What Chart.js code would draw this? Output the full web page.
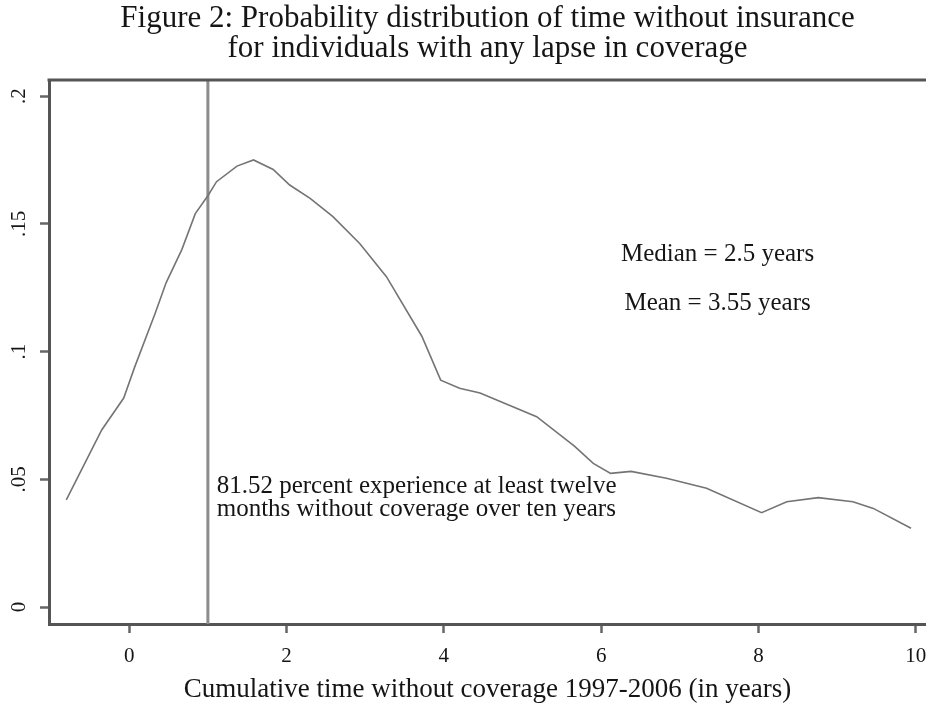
<!DOCTYPE html>
<html>
<head>
<meta charset="utf-8">
<script src="https://cdn.jsdelivr.net/npm/chart.js@4.4.0/dist/chart.umd.min.js"></script>
<style>
  html, body { margin: 0; padding: 0; background: #fff; }
  #wrap { width: 926px; height: 705px; }
</style>
</head>
<body>
<div id="wrap"><canvas id="c" width="926" height="705"></canvas></div>
<script>
// Kernel density of cumulative years without coverage
const yearsWithout = [-0.80, -0.35, -0.07, 0.07, 0.33, 0.47, 0.67, 0.84, 1.00, 1.11,
  1.37, 1.58, 1.83, 2.04, 2.30, 2.59, 2.93, 3.27, 3.72, 3.96,
  4.20, 4.46, 5.18, 5.66, 5.90, 6.12, 6.38, 6.83, 7.34, 8.04,
  8.36, 8.76, 9.20, 9.46, 9.94];
const density = [0.0419, 0.0693, 0.0818, 0.094, 0.115, 0.127, 0.140, 0.154, 0.161, 0.1665,
  0.1726, 0.175, 0.1713, 0.1652, 0.160, 0.1528, 0.1423, 0.1293, 0.106, 0.0888,
  0.0856, 0.0838, 0.0745, 0.063, 0.0562, 0.0523, 0.0531, 0.0504, 0.0465, 0.0369,
  0.0412, 0.0428, 0.0412, 0.0386, 0.0308];

// Twelve-month threshold marker
const cutoffYears = 1;

// Axis ticks
const xTickValues = [0, 2, 4, 6, 8, 10];
const yTickValues = [0, 0.05, 0.1, 0.15, 0.2];
const yTickLabels = ['0', '.05', '.1', '.15', '.2'];

// Axis ranges
const xMin = -1.02, xMax = 10.13;
const yMin = -0.00665, yMax = 0.2063;

const SERIF = "'Liberation Serif', 'Times New Roman', serif";
const TEXT = '#151515';
const AXIS = '#555555';

// Text notes placed in data coordinates
const notes = [
  { text: 'Median = 2.5 years', x: 7.48, y: 0.1354, align: 'center' },
  { text: 'Mean = 3.55 years', x: 7.48, y: 0.1162, align: 'center' },
  { text: '81.52 percent experience at least twelve', x: 1.112, y: 0.0446, align: 'left' },
  { text: 'months without coverage over ten years', x: 1.112, y: 0.0357, align: 'left' }
];

const framePlugin = {
  id: 'frame',
  afterDraw(chart) {
    const { ctx, chartArea, scales } = chart;
    ctx.save();
    // top edge of the plot box
    ctx.strokeStyle = AXIS;
    ctx.lineWidth = 3;
    ctx.beginPath();
    ctx.moveTo(chartArea.left - 1.5, chartArea.top);
    ctx.lineTo(chartArea.right + 2, chartArea.top);
    ctx.stroke();

    // rotated y tick labels
    ctx.fillStyle = TEXT;
    ctx.font = '21px ' + SERIF;
    ctx.textAlign = 'center';
    ctx.textBaseline = 'middle';
    yTickValues.forEach((v, i) => {
      const py = scales.y.getPixelForValue(v);
      ctx.save();
      ctx.translate(19, py);
      ctx.rotate(-Math.PI / 2);
      ctx.fillText(yTickLabels[i], 0, 0);
      ctx.restore();
    });

    // notes
    ctx.font = '25px ' + SERIF;
    ctx.textBaseline = 'alphabetic';
    notes.forEach(n => {
      ctx.textAlign = n.align;
      ctx.fillText(n.text, scales.x.getPixelForValue(n.x), scales.y.getPixelForValue(n.y));
    });
    ctx.restore();
  }
};

new Chart(document.getElementById('c'), {
  type: 'scatter',
  data: {
    datasets: [
      {
        label: 'Density',
        data: yearsWithout.map((x, i) => ({ x, y: density[i] })),
        showLine: true,
        borderColor: '#747474',
        borderWidth: 1.6,
        pointRadius: 0,
        tension: 0,
        order: 0
      },
      {
        label: 'Twelve months',
        data: [{ x: cutoffYears, y: yMin }, { x: cutoffYears, y: yMax }],
        showLine: true,
        borderColor: '#8c8c8c',
        borderWidth: 3,
        pointRadius: 0,
        order: 1
      }
    ]
  },
  options: {
    responsive: false,
    animation: false,
    devicePixelRatio: 1,
    layout: { padding: 0 },
    plugins: {
      legend: { display: false },
      tooltip: { enabled: false },
      title: {
        display: true,
        fullSize: false,
        text: ['Figure 2: Probability distribution of time without insurance',
               'for individuals with any lapse in coverage'],
        font: { family: SERIF, size: 31, weight: 'normal', lineHeight: 30 / 31 },
        color: TEXT,
        padding: { top: 4, bottom: 16 }
      }
    },
    scales: {
      x: {
        type: 'linear',
        min: xMin,
        max: xMax,
        afterBuildTicks: s => { s.ticks = xTickValues.map(v => ({ value: v })); },
        afterFit: s => { s.height = 81; s.paddingLeft = 0; s.paddingRight = 0; },
        ticks: {
          autoSkip: false,
          minRotation: 0,
          maxRotation: 0,
          padding: 11,
          color: TEXT,
          font: { family: SERIF, size: 21 },
          callback: v => String(v)
        },
        grid: { drawOnChartArea: false, drawTicks: true, tickLength: 9, tickWidth: 2.5, tickColor: '#666' },
        border: { display: true, width: 3, color: AXIS },
        title: {
          display: true,
          text: 'Cumulative time without coverage 1997-2006 (in years)',
          color: TEXT,
          font: { family: SERIF, size: 27, lineHeight: 1.1 },
          padding: 0
        }
      },
      y: {
        type: 'linear',
        min: yMin,
        max: yMax,
        afterBuildTicks: s => { s.ticks = yTickValues.map(v => ({ value: v })); },
        afterFit: s => { s.width = 49; s.paddingTop = 0; s.paddingBottom = 0; },
        ticks: { display: false },
        grid: { drawOnChartArea: false, drawTicks: true, tickLength: 9, tickWidth: 2.5, tickColor: '#666' },
        border: { display: true, width: 3, color: AXIS }
      }
    }
  },
  plugins: [framePlugin]
});
</script>
</body>
</html>
